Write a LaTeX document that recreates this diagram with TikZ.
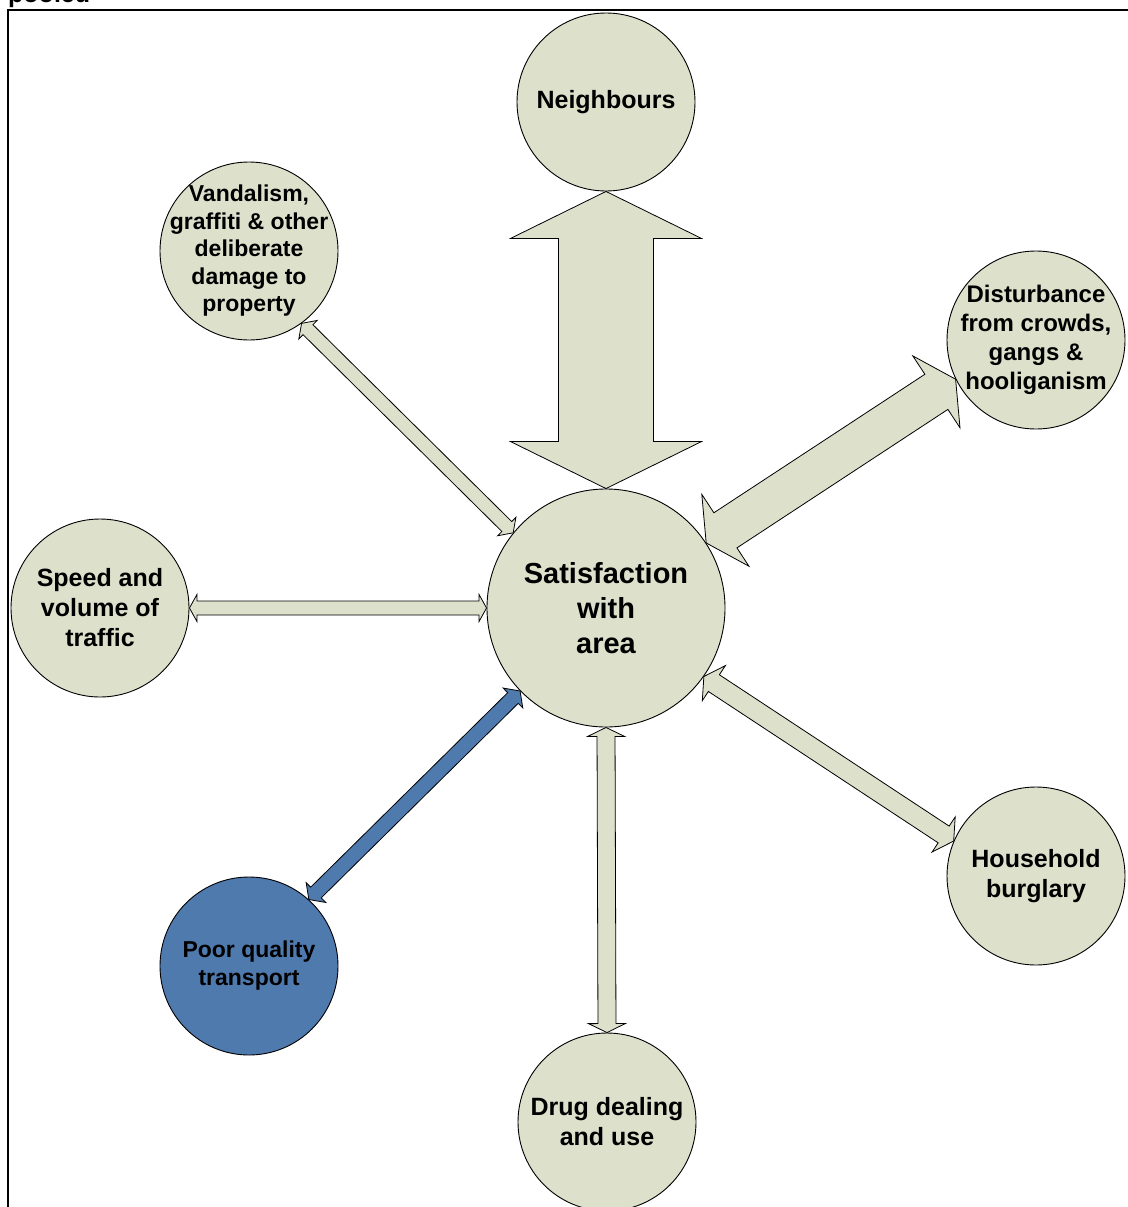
\documentclass[tikz,border=0pt]{standalone}
\usepackage{fontspec}
\setmainfont{Liberation Sans}
\usetikzlibrary{calc}
\definecolor{sage}{RGB}{221,225,204}
\definecolor{tblue}{RGB}{79,122,174}
% #1 start, #2 end, #3 shaft half width, #4 head half width, #5 head length, #6 style
\newcommand{\dblarr}[6]{%
  \draw[#6] (#1)
    -- ($(#1)!#5!(#2)!#4!90:(#2)$)
    -- ($(#1)!#5!(#2)!#3!90:(#2)$)
    -- ($(#2)!#5!(#1)!#3!-90:(#1)$)
    -- ($(#2)!#5!(#1)!#4!-90:(#1)$)
    -- (#2)
    -- ($(#2)!#5!(#1)!#4!90:(#1)$)
    -- ($(#2)!#5!(#1)!#3!90:(#1)$)
    -- ($(#1)!#5!(#2)!#3!-90:(#2)$)
    -- ($(#1)!#5!(#2)!#4!-90:(#2)$)
    -- cycle;}
\begin{document}
\begin{tikzpicture}[x=1pt,y=-1pt,
  bubble/.style={circle,draw=black,line width=0.9pt,fill=sage,minimum size=178pt,inner sep=0pt},
  bigbubble/.style={bubble,minimum size=238pt},
  txt/.style={inner sep=0pt,align=center,font={\fontsize{25}{30}\selectfont\bfseries}},
  arr/.style={draw=black,line width=0.8pt,fill=sage,line join=miter},
  barr/.style={arr,fill=tblue}]
\useasboundingbox (0,0) rectangle (1127,1207);
\fill[white] (0,0) rectangle (1127,1207);
\node[anchor=base west,inner sep=0pt,font={\fontsize{25}{30}\selectfont\bfseries}] (ptitle) at (8,3) {pooled};
\draw[line width=1.5pt] (8,1210) -- (8,10) -- (1130,10);

\node[bigbubble] (sat) at (606,608) {};
\node[txt,font={\fontsize{29}{35}\selectfont\bfseries}] (satt) at (sat) {Satisfaction\\with\\area};
\node[bubble] (nb) at (606,102) {};
\node[txt] (nbt) at (nb) {Neighbours};
\node[bubble] (van) at (249,251) {};
\node[txt,font={\fontsize{23}{27.5}\selectfont\bfseries}] (vant) at (van) {Vandalism,\\graffiti \& other\\deliberate\\damage to\\property};
\node[bubble] (dist) at (1036,340) {};
\node[txt,font={\fontsize{24}{29}\selectfont\bfseries}] (distt) at (dist) {Disturbance\\from crowds,\\gangs \&\\hooliganism};
\node[bubble] (spd) at (100,608) {};
\node[txt] (spdt) at (spd) {Speed and\\volume of\\traffic};
\node[bubble,fill=tblue] (tra) at (249,966) {};
\node[txt,font={\fontsize{23}{28}\selectfont\bfseries}] (trat) at (tra) {Poor quality\\transport};
\node[bubble] (drug) at (607,1122) {};
\node[txt] (drugt) at (drug) {Drug dealing\\and use};
\node[bubble] (hb) at (1036,876) {};
\node[txt] (hbt) at (hb) {Household\\burglary};

\dblarr{nb.south}{sat.north}{47.5pt}{95.5pt}{47pt}{arr}
\dblarr{sat.33}{dist.206}{21pt}{43pt}{23pt}{arr}
\dblarr{van.306}{sat.141}{7pt}{13pt}{9pt}{arr}
\dblarr{spd.east}{sat.west}{7pt}{13.5pt}{7.5pt}{arr}
\dblarr{tra.48}{sat.224}{7.5pt}{14pt}{10pt}{barr}
\dblarr{sat.south}{drug.north}{9pt}{18.5pt}{9pt}{arr}
\dblarr{sat.325}{hb.157}{10pt}{21pt}{12pt}{arr}
\end{tikzpicture}
\end{document}
